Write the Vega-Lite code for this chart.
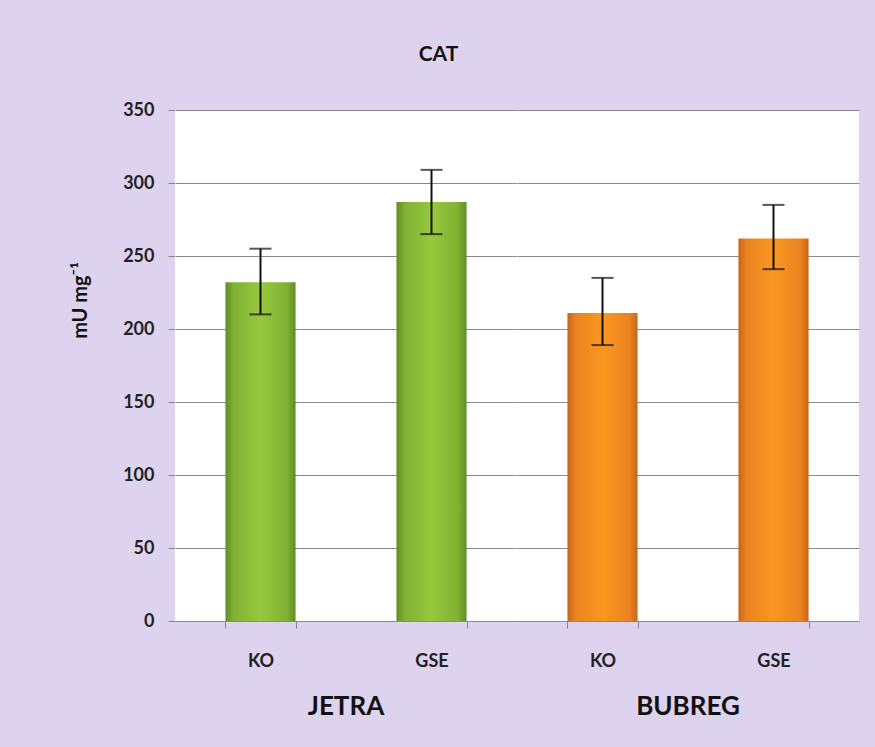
{
  "$schema": "https://vega.github.io/schema/vega-lite/v6.json",
  "background": "#ddd3ee",
  "padding": {"left": 70, "top": 44, "right": 17, "bottom": 40},
  "data": {"values": [
    {"organ": "JETRA", "group": "KO", "mean": 232, "lo": 210, "hi": 255},
    {"organ": "JETRA", "group": "GSE", "mean": 287, "lo": 265, "hi": 309},
    {"organ": "BUBREG", "group": "KO", "mean": 211, "lo": 189, "hi": 235},
    {"organ": "BUBREG", "group": "GSE", "mean": 262, "lo": 241, "hi": 285}
  ]},
  "title": {"text": "CAT", "anchor": "middle", "fontSize": 21, "font": "Lato", "fontWeight": "bold", "color": "#111111", "dx": -26, "offset": 36},
  "facet": {"column": {"field": "organ", "type": "nominal", "sort": ["JETRA", "BUBREG"], "title": null,
    "header": {"labelOrient": "bottom", "labelFontSize": 26, "labelFont": "Lato", "labelFontWeight": "bold", "labelColor": "#111111", "labelPadding": 24}}},
  "spacing": 0,
  "spec": {
    "width": 342,
    "height": 511,
    "encoding": {
      "x": {"field": "group", "type": "nominal", "sort": ["KO", "GSE"],
        "scale": {"paddingInner": 0.59, "paddingOuter": 0.295},
        "axis": {"title": null, "labelAngle": 0, "tickBand": "extent", "grid": false}}
    },
    "layer": [
      {
        "mark": {"type": "bar"},
        "encoding": {
          "y": {"field": "mean", "type": "quantitative", "title": "mU mg⁻¹",
            "scale": {"domain": [0, 350]},
            "axis": {"values": [0, 50, 100, 150, 200, 250, 300, 350]}},
          "color": {
            "condition": {"test": "datum.organ === 'JETRA'", "value": {"gradient": "linear", "x1": 0, "x2": 1, "y1": 0, "y2": 0, "stops": [
              {"offset": 0, "color": "#628d22"}, {"offset": 0.12, "color": "#80b133"}, {"offset": 0.5, "color": "#97c83e"}, {"offset": 0.88, "color": "#80b133"}, {"offset": 1, "color": "#628d22"}]}},
            "value": {"gradient": "linear", "x1": 0, "x2": 1, "y1": 0, "y2": 0, "stops": [
              {"offset": 0, "color": "#c9661a"}, {"offset": 0.12, "color": "#ea8420"}, {"offset": 0.5, "color": "#fa9720"}, {"offset": 0.88, "color": "#ea8420"}, {"offset": 1, "color": "#c9661a"}]}
          }
        }
      },
      {
        "mark": {"type": "rule", "color": "#111111", "strokeWidth": 2},
        "encoding": {
          "y": {"field": "lo", "type": "quantitative", "title": "mU mg⁻¹"},
          "y2": {"field": "hi"}
        }
      },
      {
        "mark": {"type": "tick", "color": "#111111", "orient": "horizontal", "size": 22, "thickness": 2},
        "encoding": {"y": {"field": "hi", "type": "quantitative", "title": "mU mg⁻¹"}}
      },
      {
        "mark": {"type": "tick", "color": "#111111", "orient": "horizontal", "size": 22, "thickness": 2},
        "encoding": {"y": {"field": "lo", "type": "quantitative", "title": "mU mg⁻¹"}}
      }
    ]
  },
  "config": {
    "view": {"stroke": null, "fill": "white"},
    "axis": {"labelFont": "Lato", "labelFontSize": 18, "labelFontWeight": "bold", "labelColor": "#222222",
      "domainColor": "#888888", "tickColor": "#888888", "tickSize": 7, "gridColor": "#8a8a8a", "gridOpacity": 1,
      "titleFont": "Lato", "titleFontSize": 20, "titleFontWeight": "bold", "titleColor": "#111111"},
    "axisX": {"labelPadding": 24},
    "axisY": {"labelPadding": 14, "titleAngle": 270, "titleAlign": "center", "titleBaseline": "middle", "titleX": -95, "titleY": 190}
  }
}
